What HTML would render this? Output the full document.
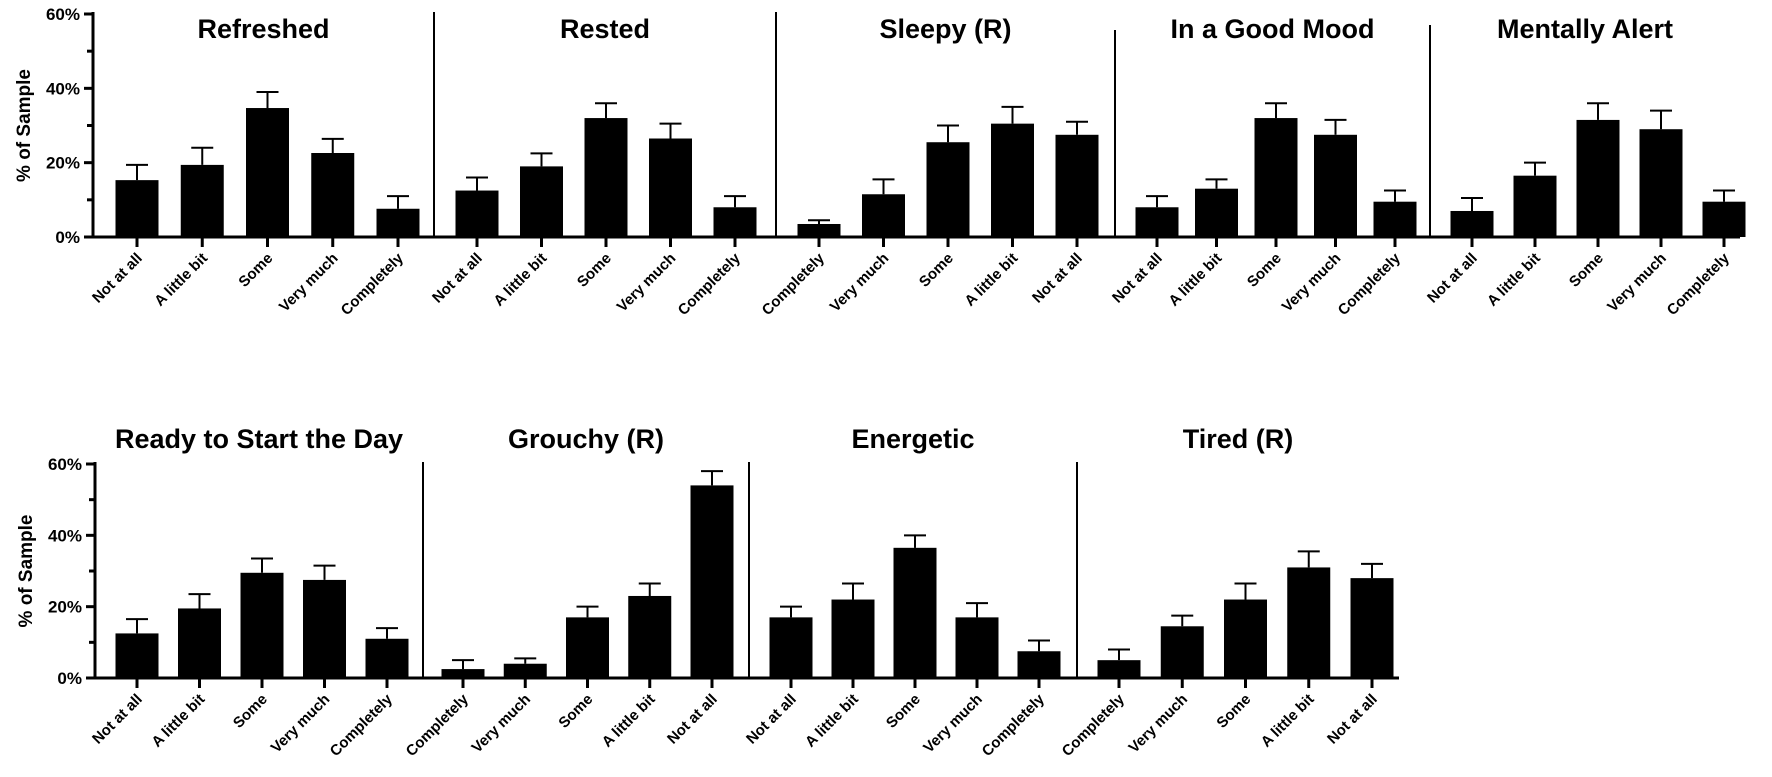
<!DOCTYPE html>
<html><head><meta charset="utf-8"><style>
html,body{margin:0;padding:0;background:#fff;}
svg{display:block;font-family:"Liberation Sans",Arial,sans-serif;font-weight:bold;}
</style></head><body>
<svg id="chart" width="1772" height="777" viewBox="0 0 1772 777" xmlns="http://www.w3.org/2000/svg"></svg>
<script>
// ---- data ----
const titles = ["Refreshed","Rested","Sleepy (R)","In a Good Mood","Mentally Alert","Ready to Start the Day","Grouchy (R)","Energetic","Tired (R)"];
const catsPos = ["Not at all","A little bit","Some","Very much","Completely"];
const catsRev = ["Completely","Very much","Some","A little bit","Not at all"];
const categories = [catsPos,catsPos,catsRev,catsPos,catsPos,catsPos,catsRev,catsPos,catsRev];
const values = [
  [15.3,19.4,34.7,22.6,7.6],
  [12.5,19,32,26.5,8],
  [3.5,11.5,25.5,30.5,27.5],
  [8,13,32,27.5,9.5],
  [7,16.5,31.5,29,9.5],
  [12.5,19.5,29.5,27.5,11],
  [2.5,4,17,23,54],
  [17,22,36.5,17,7.5],
  [5,14.5,22,31,28]
];
const errTops = [
  [19.4,24,39,26.4,11],
  [16,22.5,36,30.5,11],
  [4.5,15.5,30,35,31],
  [11,15.5,36,31.5,12.5],
  [10.5,20,36,34,12.5],
  [16.5,23.5,33.5,31.5,14],
  [5,5.5,20,26.5,58],
  [20,26.5,40,21,10.5],
  [8,17.5,26.5,35.5,32]
];
const yTicks = [0,20,40,60];
const yTickLabels = ["0%","20%","40%","60%"];

// ---- layout ----
const rows = [{zeroY:237, topY:14, titleY:38, labelX:80, yTitleX:30},
              {zeroY:678, topY:464, titleY:448, labelX:82, yTitleX:32}];
const panels = [
  {row:0, ax:93, t0:137, t4:398, end:434, lab:true},
  {row:0, ax:434, t0:477, t4:735, end:776},
  {row:0, ax:776, t0:819, t4:1077, end:1115},
  {row:0, ax:1115, t0:1157, t4:1395, end:1430, axTop:30},
  {row:0, ax:1430, t0:1472, t4:1724, end:1740, axTop:25},
  {row:1, ax:95, t0:137, t4:387, end:423, lab:true},
  {row:1, ax:423, t0:463, t4:712, end:749},
  {row:1, ax:749, t0:791, t4:1039, end:1077},
  {row:1, ax:1077, t0:1119, t4:1372, end:1399}
];
const svg = document.getElementById('chart');
const NS = "http://www.w3.org/2000/svg";
function mk(tag, attrs, parent){
  const e = document.createElementNS(NS, tag);
  for (const k in attrs) e.setAttribute(k, attrs[k]);
  (parent||svg).appendChild(e);
  return e;
}
panels.forEach((p, pi) => {
  const r = rows[p.row];
  const yScale = v => r.zeroY - (r.zeroY - r.topY) * v / 60;
  const step = (p.t4 - p.t0) / 4;
  const xScale = i => p.t0 + i * step;
  const g = mk('g', {});
  
  
  // title
  const t = mk('text', {x:(p.ax+p.end)/2, y:r.titleY, 'text-anchor':'middle', 'font-size':27}, g);
  t.textContent = titles[pi];
  
  
  // y axis
  const yTop = p.axTop !== undefined ? p.axTop : r.topY - 2;
  const ya = mk('line', {x1:p.ax, y1:yTop, x2:p.ax, y2:r.zeroY+1, stroke:'#000', 'stroke-width': p.lab ? 3 : 2}, g);
  
  
  if (p.lab) {
    [0,10,20,30,40,50,60].forEach(v => {
      const tk = mk('line', {x1:p.ax-(v%20===0?9:6), y1:yScale(v), x2:p.ax, y2:yScale(v), stroke:'#000', 'stroke-width':3}, g);
      
      
    });
    yTicks.forEach((v, i) => {
      const tl = mk('text', {x:r.labelX, y:yScale(v)+6, 'text-anchor':'end', 'font-size':17}, g);
      tl.textContent = yTickLabels[i];
      
      
    });
    const cy = (r.zeroY + r.topY) / 2;
    const yt = mk('text', {x:r.yTitleX, y:cy, 'text-anchor':'middle', 'font-size':19, transform:'rotate(-90 '+r.yTitleX+' '+cy+')'}, g);
    yt.textContent = '% of Sample';
    
    
  }
  // x axis
  const xa = mk('line', {x1:p.ax-1, y1:r.zeroY, x2:p.end, y2:r.zeroY, stroke:'#000', 'stroke-width':3}, g);
  
  
  categories[pi].forEach((c, i) => {
    const cx = xScale(i);
    const v = values[pi][i], e = errTops[pi][i];
    const bar = mk('rect', {x:cx-21.5, y:yScale(v), width:43, height:r.zeroY - yScale(v), fill:'#000'}, g);
    
    
    const eb = mk('path', {d:'M'+cx+' '+yScale(v)+'V'+yScale(e)+'M'+(cx-11)+' '+yScale(e)+'H'+(cx+11), stroke:'#000', 'stroke-width':2, fill:'none'}, g);
    
    
    const tk = mk('line', {x1:cx, y1:r.zeroY, x2:cx, y2:r.zeroY+10, stroke:'#000', 'stroke-width':3}, g);
    
    
    const lx = cx + 6, ly = r.zeroY + 22;
    const tl = mk('text', {x:lx, y:ly, 'text-anchor':'end', 'font-size':15, transform:'rotate(-45 '+lx+' '+ly+')'}, g);
    tl.textContent = c;
    
    
  });
});
</script>
</body></html>
